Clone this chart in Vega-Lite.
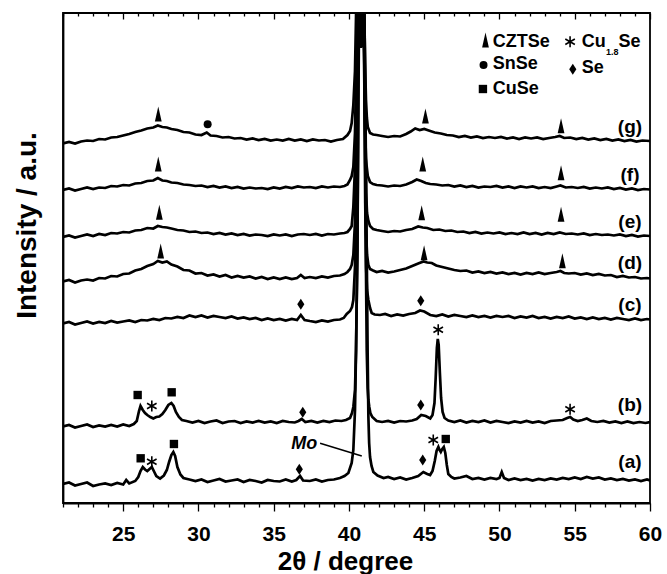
{
  "$schema": "https://vega.github.io/schema/vega-lite/v6.json",
  "width": 587,
  "height": 490,
  "autosize": {"type": "none"},
  "padding": {"left": 63, "top": 13, "right": 17, "bottom": 71},
  "background": "white",
  "config": {
    "view": {"stroke": "black", "strokeWidth": 1.8},
    "font": "Liberation Sans",
    "axis": {"labelFont": "Liberation Sans", "titleFont": "Liberation Sans", "labelColor": "black", "titleColor": "black", "domainColor": "black", "tickColor": "black", "grid": false}
  },
  "datasets": {
    "xrd": [
      {"s":"a","x":21.0,"y":19},{"s":"a","x":21.4,"y":20.5},{"s":"a","x":21.8,"y":17.5},{"s":"a","x":22.2,"y":19},{"s":"a","x":22.6,"y":20.5},{"s":"a","x":23.0,"y":17},{"s":"a","x":23.4,"y":18.5},{"s":"a","x":23.8,"y":19.5},{"s":"a","x":24.2,"y":18},{"s":"a","x":24.6,"y":20},{"s":"a","x":25.0,"y":18.5},{"s":"a","x":25.2,"y":23},{"s":"a","x":25.4,"y":19.5},{"s":"a","x":25.8,"y":22},{"s":"a","x":26.0,"y":26},{"s":"a","x":26.15,"y":32},{"s":"a","x":26.3,"y":36},{"s":"a","x":26.45,"y":33.5},{"s":"a","x":26.6,"y":32},{"s":"a","x":26.75,"y":34},{"s":"a","x":26.9,"y":36},{"s":"a","x":27.05,"y":31.5},{"s":"a","x":27.2,"y":27},{"s":"a","x":27.45,"y":24.5},{"s":"a","x":27.7,"y":27.5},{"s":"a","x":27.9,"y":33},{"s":"a","x":28.05,"y":41},{"s":"a","x":28.2,"y":48},{"s":"a","x":28.33,"y":51},{"s":"a","x":28.45,"y":47},{"s":"a","x":28.6,"y":36},{"s":"a","x":28.8,"y":28.5},{"s":"a","x":29.0,"y":25},{"s":"a","x":29.4,"y":23.5},{"s":"a","x":29.8,"y":22},{"s":"a","x":30.2,"y":23.5},{"s":"a","x":30.6,"y":21},{"s":"a","x":31.0,"y":22.5},{"s":"a","x":31.4,"y":24},{"s":"a","x":31.8,"y":21.5},{"s":"a","x":32.2,"y":22.5},{"s":"a","x":32.6,"y":23.5},{"s":"a","x":33.0,"y":21},{"s":"a","x":33.4,"y":23},{"s":"a","x":33.8,"y":22},{"s":"a","x":34.2,"y":20.5},{"s":"a","x":34.6,"y":23},{"s":"a","x":35.0,"y":22},{"s":"a","x":35.4,"y":21.5},{"s":"a","x":35.8,"y":23.5},{"s":"a","x":36.2,"y":21.5},{"s":"a","x":36.5,"y":23},{"s":"a","x":36.75,"y":27},{"s":"a","x":36.95,"y":22.5},{"s":"a","x":37.4,"y":22},{"s":"a","x":37.8,"y":23.5},{"s":"a","x":38.2,"y":21.5},{"s":"a","x":38.6,"y":23},{"s":"a","x":39.0,"y":23.5},{"s":"a","x":39.4,"y":25},{"s":"a","x":39.7,"y":27},{"s":"a","x":39.96,"y":30},{"s":"a","x":40.18,"y":40},{"s":"a","x":40.29,"y":53},{"s":"a","x":40.4,"y":93},{"s":"a","x":40.47,"y":153},{"s":"a","x":40.56,"y":253},{"s":"a","x":40.62,"y":380},{"s":"a","x":40.66,"y":470},{"s":"a","x":40.71,"y":515},{"s":"a","x":40.76,"y":458},{"s":"a","x":40.81,"y":512},{"s":"a","x":40.86,"y":462},{"s":"a","x":40.91,"y":508},{"s":"a","x":40.96,"y":468},{"s":"a","x":41.0,"y":505},{"s":"a","x":41.05,"y":460},{"s":"a","x":41.12,"y":350},{"s":"a","x":41.18,"y":253},{"s":"a","x":41.24,"y":150},{"s":"a","x":41.29,"y":86},{"s":"a","x":41.34,"y":60},{"s":"a","x":41.4,"y":46},{"s":"a","x":41.5,"y":37},{"s":"a","x":41.62,"y":31},{"s":"a","x":41.9,"y":27.5},{"s":"a","x":42.3,"y":25},{"s":"a","x":42.6,"y":26},{"s":"a","x":43.0,"y":24},{"s":"a","x":43.4,"y":25.5},{"s":"a","x":43.8,"y":23.5},{"s":"a","x":44.2,"y":25},{"s":"a","x":44.6,"y":27},{"s":"a","x":44.94,"y":31},{"s":"a","x":45.2,"y":29},{"s":"a","x":45.39,"y":28},{"s":"a","x":45.55,"y":32},{"s":"a","x":45.7,"y":42},{"s":"a","x":45.82,"y":52},{"s":"a","x":45.94,"y":56},{"s":"a","x":46.02,"y":53},{"s":"a","x":46.1,"y":51},{"s":"a","x":46.2,"y":54},{"s":"a","x":46.3,"y":56},{"s":"a","x":46.4,"y":50},{"s":"a","x":46.5,"y":38},{"s":"a","x":46.6,"y":29},{"s":"a","x":46.8,"y":26},{"s":"a","x":47.0,"y":24.5},{"s":"a","x":47.4,"y":25.5},{"s":"a","x":47.8,"y":27},{"s":"a","x":48.2,"y":24},{"s":"a","x":48.6,"y":25},{"s":"a","x":49.0,"y":23.5},{"s":"a","x":49.4,"y":25},{"s":"a","x":49.8,"y":24},{"s":"a","x":50.0,"y":25},{"s":"a","x":50.15,"y":31},{"s":"a","x":50.3,"y":25},{"s":"a","x":50.6,"y":23},{"s":"a","x":51.0,"y":24.5},{"s":"a","x":51.4,"y":23},{"s":"a","x":51.8,"y":24},{"s":"a","x":52.2,"y":22.5},{"s":"a","x":52.6,"y":24},{"s":"a","x":53.0,"y":23},{"s":"a","x":53.4,"y":24.5},{"s":"a","x":53.8,"y":23.5},{"s":"a","x":54.2,"y":25},{"s":"a","x":54.6,"y":24},{"s":"a","x":55.0,"y":25.5},{"s":"a","x":55.4,"y":24},{"s":"a","x":55.8,"y":26},{"s":"a","x":56.2,"y":24.5},{"s":"a","x":56.6,"y":25.5},{"s":"a","x":57.0,"y":23.5},{"s":"a","x":57.4,"y":24.5},{"s":"a","x":57.8,"y":23},{"s":"a","x":58.2,"y":24},{"s":"a","x":58.6,"y":22.5},{"s":"a","x":59.0,"y":23.5},{"s":"a","x":59.4,"y":22},{"s":"a","x":59.8,"y":23.5},{"s":"a","x":60.0,"y":22.5},

      {"s":"b","x":21.0,"y":76.5},{"s":"b","x":21.4,"y":78},{"s":"b","x":21.8,"y":75.5},{"s":"b","x":22.2,"y":77},{"s":"b","x":22.6,"y":78.5},{"s":"b","x":23.0,"y":76},{"s":"b","x":23.4,"y":77.5},{"s":"b","x":23.8,"y":76.5},{"s":"b","x":24.2,"y":78},{"s":"b","x":24.6,"y":76.5},{"s":"b","x":25.0,"y":78.5},{"s":"b","x":25.4,"y":77},{"s":"b","x":25.7,"y":79},{"s":"b","x":25.9,"y":82},{"s":"b","x":26.05,"y":92},{"s":"b","x":26.15,"y":97},{"s":"b","x":26.3,"y":93},{"s":"b","x":26.45,"y":90},{"s":"b","x":26.6,"y":88},{"s":"b","x":26.8,"y":86},{"s":"b","x":27.0,"y":84.5},{"s":"b","x":27.2,"y":86},{"s":"b","x":27.4,"y":86.5},{"s":"b","x":27.6,"y":89},{"s":"b","x":27.8,"y":93},{"s":"b","x":28.0,"y":98},{"s":"b","x":28.2,"y":100},{"s":"b","x":28.35,"y":97},{"s":"b","x":28.5,"y":91},{"s":"b","x":28.7,"y":86},{"s":"b","x":28.9,"y":83},{"s":"b","x":29.2,"y":82},{"s":"b","x":29.6,"y":80.5},{"s":"b","x":30.0,"y":82},{"s":"b","x":30.4,"y":80},{"s":"b","x":30.8,"y":81.5},{"s":"b","x":31.2,"y":82.5},{"s":"b","x":31.6,"y":80},{"s":"b","x":32.0,"y":81.5},{"s":"b","x":32.4,"y":82},{"s":"b","x":32.8,"y":80},{"s":"b","x":33.2,"y":81.5},{"s":"b","x":33.6,"y":80.5},{"s":"b","x":34.0,"y":82},{"s":"b","x":34.4,"y":80.5},{"s":"b","x":34.8,"y":81.5},{"s":"b","x":35.2,"y":80},{"s":"b","x":35.6,"y":82},{"s":"b","x":36.0,"y":81},{"s":"b","x":36.4,"y":80.5},{"s":"b","x":36.65,"y":82},{"s":"b","x":36.86,"y":84},{"s":"b","x":37.1,"y":81},{"s":"b","x":37.5,"y":82},{"s":"b","x":37.9,"y":80.5},{"s":"b","x":38.3,"y":82},{"s":"b","x":38.7,"y":81},{"s":"b","x":39.1,"y":82.5},{"s":"b","x":39.5,"y":82},{"s":"b","x":39.8,"y":83},{"s":"b","x":40.07,"y":85},{"s":"b","x":40.2,"y":90},{"s":"b","x":40.29,"y":96},{"s":"b","x":40.4,"y":113},{"s":"b","x":40.47,"y":153},{"s":"b","x":40.56,"y":253},{"s":"b","x":40.6,"y":360},{"s":"b","x":40.62,"y":465},{"s":"b","x":40.67,"y":510},{"s":"b","x":40.72,"y":456},{"s":"b","x":40.77,"y":514},{"s":"b","x":40.82,"y":460},{"s":"b","x":40.87,"y":506},{"s":"b","x":40.92,"y":463},{"s":"b","x":40.97,"y":502},{"s":"b","x":41.05,"y":420},{"s":"b","x":41.12,"y":250},{"s":"b","x":41.18,"y":153},{"s":"b","x":41.24,"y":115},{"s":"b","x":41.29,"y":103},{"s":"b","x":41.35,"y":96},{"s":"b","x":41.42,"y":90},{"s":"b","x":41.55,"y":86},{"s":"b","x":41.84,"y":82},{"s":"b","x":42.2,"y":81},{"s":"b","x":42.6,"y":82},{"s":"b","x":43.0,"y":80.5},{"s":"b","x":43.4,"y":82},{"s":"b","x":43.8,"y":81.5},{"s":"b","x":44.2,"y":82.5},{"s":"b","x":44.5,"y":84},{"s":"b","x":44.8,"y":88},{"s":"b","x":45.1,"y":87},{"s":"b","x":45.4,"y":84.5},{"s":"b","x":45.55,"y":88},{"s":"b","x":45.68,"y":100},{"s":"b","x":45.76,"y":125},{"s":"b","x":45.84,"y":155},{"s":"b","x":45.9,"y":164},{"s":"b","x":45.96,"y":158},{"s":"b","x":46.04,"y":130},{"s":"b","x":46.12,"y":105},{"s":"b","x":46.22,"y":91},{"s":"b","x":46.35,"y":85},{"s":"b","x":46.6,"y":82.5},{"s":"b","x":47.0,"y":81},{"s":"b","x":47.4,"y":82.5},{"s":"b","x":47.8,"y":80.5},{"s":"b","x":48.2,"y":82},{"s":"b","x":48.6,"y":81},{"s":"b","x":49.0,"y":82.5},{"s":"b","x":49.4,"y":80.5},{"s":"b","x":49.8,"y":82},{"s":"b","x":50.2,"y":81},{"s":"b","x":50.6,"y":80},{"s":"b","x":51.0,"y":81.5},{"s":"b","x":51.4,"y":80.5},{"s":"b","x":51.8,"y":82},{"s":"b","x":52.2,"y":80.5},{"s":"b","x":52.6,"y":81.5},{"s":"b","x":53.0,"y":80},{"s":"b","x":53.4,"y":82},{"s":"b","x":53.8,"y":82.5},{"s":"b","x":54.2,"y":83},{"s":"b","x":54.5,"y":85},{"s":"b","x":54.7,"y":86},{"s":"b","x":54.9,"y":83.5},{"s":"b","x":55.2,"y":82},{"s":"b","x":55.5,"y":83},{"s":"b","x":55.8,"y":84.5},{"s":"b","x":56.1,"y":82},{"s":"b","x":56.5,"y":81},{"s":"b","x":56.9,"y":82},{"s":"b","x":57.3,"y":80.5},{"s":"b","x":57.7,"y":81.5},{"s":"b","x":58.1,"y":80},{"s":"b","x":58.5,"y":81.5},{"s":"b","x":58.9,"y":80},{"s":"b","x":59.3,"y":81},{"s":"b","x":59.7,"y":80},{"s":"b","x":60.0,"y":81},

      {"s":"c","x":21.0,"y":179.5},{"s":"c","x":21.4,"y":181},{"s":"c","x":21.8,"y":178.5},{"s":"c","x":22.2,"y":180},{"s":"c","x":22.6,"y":181.5},{"s":"c","x":23.0,"y":179.5},{"s":"c","x":23.4,"y":181},{"s":"c","x":23.8,"y":180},{"s":"c","x":24.2,"y":182},{"s":"c","x":24.6,"y":180.5},{"s":"c","x":25.0,"y":181.5},{"s":"c","x":25.4,"y":182.5},{"s":"c","x":25.8,"y":181},{"s":"c","x":26.2,"y":183},{"s":"c","x":26.6,"y":182.5},{"s":"c","x":27.0,"y":184},{"s":"c","x":27.4,"y":183},{"s":"c","x":27.8,"y":185},{"s":"c","x":28.2,"y":184.5},{"s":"c","x":28.6,"y":186},{"s":"c","x":29.0,"y":185},{"s":"c","x":29.4,"y":187.5},{"s":"c","x":29.8,"y":186},{"s":"c","x":30.2,"y":187.5},{"s":"c","x":30.6,"y":185.5},{"s":"c","x":31.0,"y":187},{"s":"c","x":31.4,"y":186},{"s":"c","x":31.8,"y":185},{"s":"c","x":32.2,"y":186.5},{"s":"c","x":32.6,"y":184.5},{"s":"c","x":33.0,"y":185.5},{"s":"c","x":33.4,"y":184},{"s":"c","x":33.8,"y":185},{"s":"c","x":34.2,"y":183},{"s":"c","x":34.6,"y":184.5},{"s":"c","x":35.0,"y":183},{"s":"c","x":35.4,"y":184},{"s":"c","x":35.8,"y":182.5},{"s":"c","x":36.2,"y":184},{"s":"c","x":36.55,"y":183},{"s":"c","x":36.8,"y":188},{"s":"c","x":37.05,"y":183},{"s":"c","x":37.4,"y":182},{"s":"c","x":37.8,"y":181},{"s":"c","x":38.2,"y":182.5},{"s":"c","x":38.6,"y":181.5},{"s":"c","x":39.0,"y":183},{"s":"c","x":39.4,"y":183.5},{"s":"c","x":39.65,"y":185},{"s":"c","x":39.85,"y":189},{"s":"c","x":40.07,"y":192},{"s":"c","x":40.2,"y":196},{"s":"c","x":40.29,"y":203},{"s":"c","x":40.4,"y":236},{"s":"c","x":40.47,"y":290},{"s":"c","x":40.53,"y":370},{"s":"c","x":40.58,"y":450},{"s":"c","x":40.63,"y":505},{"s":"c","x":40.68,"y":462},{"s":"c","x":40.73,"y":512},{"s":"c","x":40.78,"y":457},{"s":"c","x":40.83,"y":508},{"s":"c","x":40.88,"y":464},{"s":"c","x":40.93,"y":510},{"s":"c","x":40.98,"y":470},{"s":"c","x":41.02,"y":420},{"s":"c","x":41.08,"y":300},{"s":"c","x":41.14,"y":235},{"s":"c","x":41.2,"y":213},{"s":"c","x":41.29,"y":203},{"s":"c","x":41.4,"y":195},{"s":"c","x":41.51,"y":190},{"s":"c","x":41.7,"y":188.5},{"s":"c","x":42.06,"y":188},{"s":"c","x":42.4,"y":189},{"s":"c","x":42.8,"y":187},{"s":"c","x":43.2,"y":188.5},{"s":"c","x":43.6,"y":187.5},{"s":"c","x":44.0,"y":189},{"s":"c","x":44.4,"y":190},{"s":"c","x":44.72,"y":192.5},{"s":"c","x":45.0,"y":191.5},{"s":"c","x":45.4,"y":188},{"s":"c","x":45.8,"y":187},{"s":"c","x":46.2,"y":188.5},{"s":"c","x":46.6,"y":186.5},{"s":"c","x":47.0,"y":188},{"s":"c","x":47.4,"y":187},{"s":"c","x":47.8,"y":186},{"s":"c","x":48.2,"y":187.5},{"s":"c","x":48.6,"y":186},{"s":"c","x":49.0,"y":187},{"s":"c","x":49.4,"y":185.5},{"s":"c","x":49.8,"y":187},{"s":"c","x":50.2,"y":186},{"s":"c","x":50.6,"y":187},{"s":"c","x":51.0,"y":185},{"s":"c","x":51.4,"y":186.5},{"s":"c","x":51.8,"y":185.5},{"s":"c","x":52.2,"y":187},{"s":"c","x":52.6,"y":185},{"s":"c","x":53.0,"y":186},{"s":"c","x":53.4,"y":184.5},{"s":"c","x":53.8,"y":186},{"s":"c","x":54.2,"y":185},{"s":"c","x":54.6,"y":186.5},{"s":"c","x":55.0,"y":184.5},{"s":"c","x":55.4,"y":185.5},{"s":"c","x":55.8,"y":184},{"s":"c","x":56.2,"y":185.5},{"s":"c","x":56.6,"y":184},{"s":"c","x":57.0,"y":185},{"s":"c","x":57.4,"y":183.5},{"s":"c","x":57.8,"y":185},{"s":"c","x":58.2,"y":184},{"s":"c","x":58.6,"y":183},{"s":"c","x":59.0,"y":184.5},{"s":"c","x":59.4,"y":183},{"s":"c","x":59.8,"y":184},{"s":"c","x":60.0,"y":183.5},

      {"s":"d","x":21.0,"y":221.5},{"s":"d","x":21.4,"y":223},{"s":"d","x":21.8,"y":220.5},{"s":"d","x":22.2,"y":222.5},{"s":"d","x":22.6,"y":223.5},{"s":"d","x":23.0,"y":222.5},{"s":"d","x":23.4,"y":225},{"s":"d","x":23.8,"y":224.5},{"s":"d","x":24.2,"y":227},{"s":"d","x":24.6,"y":226.5},{"s":"d","x":25.0,"y":229},{"s":"d","x":25.4,"y":229.5},{"s":"d","x":25.8,"y":232.5},{"s":"d","x":26.2,"y":234},{"s":"d","x":26.6,"y":237},{"s":"d","x":27.0,"y":239},{"s":"d","x":27.3,"y":242},{"s":"d","x":27.6,"y":240.5},{"s":"d","x":27.9,"y":241.5},{"s":"d","x":28.2,"y":238.5},{"s":"d","x":28.6,"y":236.5},{"s":"d","x":29.0,"y":233},{"s":"d","x":29.4,"y":232.5},{"s":"d","x":29.8,"y":229.5},{"s":"d","x":30.2,"y":230},{"s":"d","x":30.6,"y":227.5},{"s":"d","x":31.0,"y":228.5},{"s":"d","x":31.4,"y":226.5},{"s":"d","x":31.8,"y":228},{"s":"d","x":32.2,"y":225.5},{"s":"d","x":32.6,"y":227},{"s":"d","x":33.0,"y":225.5},{"s":"d","x":33.4,"y":226.5},{"s":"d","x":33.8,"y":224.5},{"s":"d","x":34.2,"y":226},{"s":"d","x":34.6,"y":224},{"s":"d","x":35.0,"y":225.5},{"s":"d","x":35.4,"y":224},{"s":"d","x":35.8,"y":225.5},{"s":"d","x":36.2,"y":224},{"s":"d","x":36.55,"y":225},{"s":"d","x":36.8,"y":228},{"s":"d","x":37.05,"y":225},{"s":"d","x":37.4,"y":226},{"s":"d","x":37.8,"y":225},{"s":"d","x":38.2,"y":226.5},{"s":"d","x":38.6,"y":225.5},{"s":"d","x":39.0,"y":227},{"s":"d","x":39.4,"y":227.5},{"s":"d","x":39.7,"y":229},{"s":"d","x":39.9,"y":231},{"s":"d","x":40.07,"y":234},{"s":"d","x":40.18,"y":238},{"s":"d","x":40.29,"y":248},{"s":"d","x":40.4,"y":281},{"s":"d","x":40.47,"y":336},{"s":"d","x":40.53,"y":416},{"s":"d","x":40.61,"y":470},{"s":"d","x":40.66,"y":512},{"s":"d","x":40.71,"y":459},{"s":"d","x":40.76,"y":506},{"s":"d","x":40.81,"y":455},{"s":"d","x":40.86,"y":511},{"s":"d","x":40.91,"y":466},{"s":"d","x":40.96,"y":504},{"s":"d","x":41.02,"y":470},{"s":"d","x":41.08,"y":340},{"s":"d","x":41.14,"y":270},{"s":"d","x":41.2,"y":248},{"s":"d","x":41.29,"y":238},{"s":"d","x":41.4,"y":234},{"s":"d","x":41.6,"y":232.5},{"s":"d","x":41.84,"y":231},{"s":"d","x":42.2,"y":232},{"s":"d","x":42.6,"y":230.5},{"s":"d","x":43.0,"y":231.5},{"s":"d","x":43.4,"y":233},{"s":"d","x":43.8,"y":234.5},{"s":"d","x":44.2,"y":237},{"s":"d","x":44.6,"y":239.5},{"s":"d","x":44.95,"y":241.5},{"s":"d","x":45.2,"y":240.5},{"s":"d","x":45.5,"y":240},{"s":"d","x":45.8,"y":237.5},{"s":"d","x":46.2,"y":236},{"s":"d","x":46.6,"y":234.5},{"s":"d","x":47.0,"y":233},{"s":"d","x":47.4,"y":232},{"s":"d","x":47.8,"y":232.5},{"s":"d","x":48.2,"y":230.5},{"s":"d","x":48.6,"y":231.5},{"s":"d","x":49.0,"y":230},{"s":"d","x":49.4,"y":231},{"s":"d","x":49.8,"y":229.5},{"s":"d","x":50.2,"y":230.5},{"s":"d","x":50.6,"y":229},{"s":"d","x":51.0,"y":230},{"s":"d","x":51.4,"y":228.5},{"s":"d","x":51.8,"y":230},{"s":"d","x":52.2,"y":229},{"s":"d","x":52.6,"y":230.5},{"s":"d","x":53.0,"y":229},{"s":"d","x":53.4,"y":230},{"s":"d","x":53.8,"y":231},{"s":"d","x":54.05,"y":232},{"s":"d","x":54.3,"y":230},{"s":"d","x":54.6,"y":229.5},{"s":"d","x":55.0,"y":230},{"s":"d","x":55.4,"y":228.5},{"s":"d","x":55.8,"y":229.5},{"s":"d","x":56.2,"y":228},{"s":"d","x":56.6,"y":229},{"s":"d","x":57.0,"y":227.5},{"s":"d","x":57.4,"y":228},{"s":"d","x":57.8,"y":226},{"s":"d","x":58.2,"y":227},{"s":"d","x":58.6,"y":225.5},{"s":"d","x":59.0,"y":226},{"s":"d","x":59.4,"y":224.5},{"s":"d","x":59.8,"y":225},{"s":"d","x":60.0,"y":224.5},

      {"s":"e","x":21.0,"y":266},{"s":"e","x":21.4,"y":267.5},{"s":"e","x":21.8,"y":265.5},{"s":"e","x":22.2,"y":267},{"s":"e","x":22.6,"y":268.5},{"s":"e","x":23.0,"y":267},{"s":"e","x":23.4,"y":269},{"s":"e","x":23.8,"y":268},{"s":"e","x":24.2,"y":270},{"s":"e","x":24.6,"y":269.5},{"s":"e","x":25.0,"y":271},{"s":"e","x":25.4,"y":270.5},{"s":"e","x":25.8,"y":272.5},{"s":"e","x":26.2,"y":273},{"s":"e","x":26.6,"y":275},{"s":"e","x":27.0,"y":274.5},{"s":"e","x":27.3,"y":277},{"s":"e","x":27.6,"y":276},{"s":"e","x":27.9,"y":275.5},{"s":"e","x":28.2,"y":274.5},{"s":"e","x":28.6,"y":273},{"s":"e","x":29.0,"y":272.5},{"s":"e","x":29.4,"y":271},{"s":"e","x":29.8,"y":271.5},{"s":"e","x":30.2,"y":270},{"s":"e","x":30.6,"y":270.5},{"s":"e","x":31.0,"y":269},{"s":"e","x":31.4,"y":270},{"s":"e","x":31.8,"y":268.5},{"s":"e","x":32.2,"y":269.5},{"s":"e","x":32.6,"y":268},{"s":"e","x":33.0,"y":269},{"s":"e","x":33.4,"y":267.5},{"s":"e","x":33.8,"y":268.5},{"s":"e","x":34.2,"y":268},{"s":"e","x":34.6,"y":267},{"s":"e","x":35.0,"y":268.5},{"s":"e","x":35.4,"y":267.5},{"s":"e","x":35.8,"y":268.5},{"s":"e","x":36.2,"y":267},{"s":"e","x":36.6,"y":268.5},{"s":"e","x":37.0,"y":269},{"s":"e","x":37.4,"y":268},{"s":"e","x":37.8,"y":269},{"s":"e","x":38.2,"y":267.5},{"s":"e","x":38.6,"y":269},{"s":"e","x":39.0,"y":268.5},{"s":"e","x":39.4,"y":269.5},{"s":"e","x":39.7,"y":270},{"s":"e","x":39.9,"y":271},{"s":"e","x":40.07,"y":274},{"s":"e","x":40.18,"y":277},{"s":"e","x":40.29,"y":296},{"s":"e","x":40.4,"y":336},{"s":"e","x":40.47,"y":390},{"s":"e","x":40.55,"y":470},{"s":"e","x":40.6,"y":508},{"s":"e","x":40.65,"y":460},{"s":"e","x":40.7,"y":514},{"s":"e","x":40.75,"y":462},{"s":"e","x":40.8,"y":505},{"s":"e","x":40.85,"y":457},{"s":"e","x":40.9,"y":512},{"s":"e","x":40.95,"y":468},{"s":"e","x":41.0,"y":500},{"s":"e","x":41.04,"y":460},{"s":"e","x":41.08,"y":380},{"s":"e","x":41.14,"y":310},{"s":"e","x":41.2,"y":290},{"s":"e","x":41.29,"y":282},{"s":"e","x":41.4,"y":277},{"s":"e","x":41.6,"y":274},{"s":"e","x":41.84,"y":273},{"s":"e","x":42.2,"y":272},{"s":"e","x":42.6,"y":271},{"s":"e","x":43.0,"y":272},{"s":"e","x":43.4,"y":271.5},{"s":"e","x":43.8,"y":273},{"s":"e","x":44.2,"y":274},{"s":"e","x":44.6,"y":276.5},{"s":"e","x":44.9,"y":275.5},{"s":"e","x":45.2,"y":275},{"s":"e","x":45.6,"y":273},{"s":"e","x":46.0,"y":273.5},{"s":"e","x":46.4,"y":272},{"s":"e","x":46.8,"y":272.5},{"s":"e","x":47.2,"y":271},{"s":"e","x":47.6,"y":271.5},{"s":"e","x":48.0,"y":270},{"s":"e","x":48.4,"y":271},{"s":"e","x":48.8,"y":269.5},{"s":"e","x":49.2,"y":270.5},{"s":"e","x":49.6,"y":269.5},{"s":"e","x":50.0,"y":270.5},{"s":"e","x":50.4,"y":269},{"s":"e","x":50.8,"y":270},{"s":"e","x":51.2,"y":269},{"s":"e","x":51.6,"y":270.5},{"s":"e","x":52.0,"y":269},{"s":"e","x":52.4,"y":270},{"s":"e","x":52.8,"y":268.5},{"s":"e","x":53.2,"y":270},{"s":"e","x":53.6,"y":269},{"s":"e","x":54.0,"y":270.5},{"s":"e","x":54.4,"y":269},{"s":"e","x":54.8,"y":269.5},{"s":"e","x":55.2,"y":268.5},{"s":"e","x":55.6,"y":269.5},{"s":"e","x":56.0,"y":268},{"s":"e","x":56.4,"y":269},{"s":"e","x":56.8,"y":268},{"s":"e","x":57.2,"y":268.5},{"s":"e","x":57.6,"y":267.5},{"s":"e","x":58.0,"y":268.5},{"s":"e","x":58.4,"y":267},{"s":"e","x":58.8,"y":268},{"s":"e","x":59.2,"y":266.5},{"s":"e","x":59.6,"y":267.5},{"s":"e","x":60.0,"y":267},

      {"s":"f","x":21.0,"y":313},{"s":"f","x":21.4,"y":314.5},{"s":"f","x":21.8,"y":312.5},{"s":"f","x":22.2,"y":314},{"s":"f","x":22.6,"y":315.5},{"s":"f","x":23.0,"y":314},{"s":"f","x":23.4,"y":315.5},{"s":"f","x":23.8,"y":315},{"s":"f","x":24.2,"y":317},{"s":"f","x":24.6,"y":316.5},{"s":"f","x":25.0,"y":318},{"s":"f","x":25.4,"y":317.5},{"s":"f","x":25.8,"y":319.5},{"s":"f","x":26.2,"y":320},{"s":"f","x":26.6,"y":322},{"s":"f","x":27.0,"y":322.5},{"s":"f","x":27.3,"y":325},{"s":"f","x":27.6,"y":322.5},{"s":"f","x":27.9,"y":322},{"s":"f","x":28.2,"y":320.5},{"s":"f","x":28.6,"y":320},{"s":"f","x":29.0,"y":318.5},{"s":"f","x":29.4,"y":318},{"s":"f","x":29.8,"y":317},{"s":"f","x":30.2,"y":317.5},{"s":"f","x":30.6,"y":316},{"s":"f","x":31.0,"y":317},{"s":"f","x":31.4,"y":315.5},{"s":"f","x":31.8,"y":316.5},{"s":"f","x":32.2,"y":315},{"s":"f","x":32.6,"y":316},{"s":"f","x":33.0,"y":314.5},{"s":"f","x":33.4,"y":315.5},{"s":"f","x":33.8,"y":314.5},{"s":"f","x":34.2,"y":315},{"s":"f","x":34.6,"y":314},{"s":"f","x":35.0,"y":315.5},{"s":"f","x":35.4,"y":314.5},{"s":"f","x":35.8,"y":316},{"s":"f","x":36.2,"y":315},{"s":"f","x":36.6,"y":316.5},{"s":"f","x":37.0,"y":315.5},{"s":"f","x":37.4,"y":316},{"s":"f","x":37.8,"y":315},{"s":"f","x":38.2,"y":316.5},{"s":"f","x":38.6,"y":315.5},{"s":"f","x":39.0,"y":316.5},{"s":"f","x":39.4,"y":316},{"s":"f","x":39.7,"y":317},{"s":"f","x":39.9,"y":318.5},{"s":"f","x":40.07,"y":323},{"s":"f","x":40.18,"y":327},{"s":"f","x":40.29,"y":336},{"s":"f","x":40.4,"y":370},{"s":"f","x":40.47,"y":425},{"s":"f","x":40.53,"y":480},{"s":"f","x":40.58,"y":475},{"s":"f","x":40.64,"y":510},{"s":"f","x":40.69,"y":458},{"s":"f","x":40.74,"y":508},{"s":"f","x":40.79,"y":462},{"s":"f","x":40.84,"y":514},{"s":"f","x":40.89,"y":456},{"s":"f","x":40.94,"y":506},{"s":"f","x":40.99,"y":470},{"s":"f","x":41.03,"y":430},{"s":"f","x":41.08,"y":370},{"s":"f","x":41.13,"y":345},{"s":"f","x":41.18,"y":336},{"s":"f","x":41.25,"y":327},{"s":"f","x":41.4,"y":321},{"s":"f","x":41.6,"y":319},{"s":"f","x":41.84,"y":318},{"s":"f","x":42.2,"y":317.5},{"s":"f","x":42.6,"y":316.5},{"s":"f","x":43.0,"y":317.5},{"s":"f","x":43.4,"y":317},{"s":"f","x":43.8,"y":318.5},{"s":"f","x":44.2,"y":321},{"s":"f","x":44.5,"y":323.5},{"s":"f","x":44.8,"y":322},{"s":"f","x":45.1,"y":320},{"s":"f","x":45.4,"y":319},{"s":"f","x":45.8,"y":318.5},{"s":"f","x":46.2,"y":317.5},{"s":"f","x":46.6,"y":318},{"s":"f","x":47.0,"y":316.5},{"s":"f","x":47.4,"y":317.5},{"s":"f","x":47.8,"y":316},{"s":"f","x":48.2,"y":317},{"s":"f","x":48.6,"y":315.5},{"s":"f","x":49.0,"y":316.5},{"s":"f","x":49.4,"y":316},{"s":"f","x":49.8,"y":317},{"s":"f","x":50.2,"y":315.5},{"s":"f","x":50.6,"y":316.5},{"s":"f","x":51.0,"y":315},{"s":"f","x":51.4,"y":316.5},{"s":"f","x":51.8,"y":315.5},{"s":"f","x":52.2,"y":316.5},{"s":"f","x":52.6,"y":315},{"s":"f","x":53.0,"y":316},{"s":"f","x":53.4,"y":315},{"s":"f","x":53.8,"y":316.5},{"s":"f","x":54.05,"y":317.5},{"s":"f","x":54.4,"y":315.5},{"s":"f","x":54.8,"y":316},{"s":"f","x":55.2,"y":315},{"s":"f","x":55.6,"y":316},{"s":"f","x":56.0,"y":314.5},{"s":"f","x":56.4,"y":315.5},{"s":"f","x":56.8,"y":314.5},{"s":"f","x":57.2,"y":315.5},{"s":"f","x":57.6,"y":314},{"s":"f","x":58.0,"y":315},{"s":"f","x":58.4,"y":313.5},{"s":"f","x":58.8,"y":314.5},{"s":"f","x":59.2,"y":313},{"s":"f","x":59.6,"y":314},{"s":"f","x":60.0,"y":313.5},

      {"s":"g","x":21.0,"y":359.5},{"s":"g","x":21.4,"y":361},{"s":"g","x":21.8,"y":359.5},{"s":"g","x":22.2,"y":361.5},{"s":"g","x":22.6,"y":362.5},{"s":"g","x":23.0,"y":362},{"s":"g","x":23.4,"y":364},{"s":"g","x":23.8,"y":363.5},{"s":"g","x":24.2,"y":365.5},{"s":"g","x":24.6,"y":366},{"s":"g","x":25.0,"y":367.5},{"s":"g","x":25.4,"y":369},{"s":"g","x":25.8,"y":371},{"s":"g","x":26.2,"y":372.5},{"s":"g","x":26.6,"y":374.5},{"s":"g","x":27.0,"y":375.5},{"s":"g","x":27.3,"y":377.5},{"s":"g","x":27.6,"y":376},{"s":"g","x":27.9,"y":375.5},{"s":"g","x":28.2,"y":374},{"s":"g","x":28.6,"y":373},{"s":"g","x":29.0,"y":371},{"s":"g","x":29.4,"y":370.5},{"s":"g","x":29.8,"y":368.5},{"s":"g","x":30.2,"y":368},{"s":"g","x":30.55,"y":370.5},{"s":"g","x":30.8,"y":367.5},{"s":"g","x":31.2,"y":367},{"s":"g","x":31.6,"y":365.5},{"s":"g","x":32.0,"y":366},{"s":"g","x":32.4,"y":364.5},{"s":"g","x":32.8,"y":365},{"s":"g","x":33.2,"y":363.5},{"s":"g","x":33.6,"y":364.5},{"s":"g","x":34.0,"y":363},{"s":"g","x":34.4,"y":364},{"s":"g","x":34.8,"y":362.5},{"s":"g","x":35.2,"y":363.5},{"s":"g","x":35.6,"y":362.5},{"s":"g","x":36.0,"y":364},{"s":"g","x":36.4,"y":362.5},{"s":"g","x":36.8,"y":363.5},{"s":"g","x":37.2,"y":362},{"s":"g","x":37.6,"y":363.5},{"s":"g","x":38.0,"y":362.5},{"s":"g","x":38.4,"y":363},{"s":"g","x":38.8,"y":361.5},{"s":"g","x":39.2,"y":363},{"s":"g","x":39.6,"y":364},{"s":"g","x":39.9,"y":368},{"s":"g","x":40.07,"y":372},{"s":"g","x":40.18,"y":380},{"s":"g","x":40.29,"y":398},{"s":"g","x":40.4,"y":432},{"s":"g","x":40.47,"y":487},{"s":"g","x":40.52,"y":530},{"s":"g","x":40.55,"y":500},{"s":"g","x":40.6,"y":465},{"s":"g","x":40.65,"y":512},{"s":"g","x":40.7,"y":458},{"s":"g","x":40.75,"y":506},{"s":"g","x":40.8,"y":461},{"s":"g","x":40.85,"y":510},{"s":"g","x":40.9,"y":457},{"s":"g","x":40.95,"y":470},{"s":"g","x":41.0,"y":505},{"s":"g","x":41.04,"y":470},{"s":"g","x":41.07,"y":440},{"s":"g","x":41.13,"y":403},{"s":"g","x":41.19,"y":385},{"s":"g","x":41.25,"y":376},{"s":"g","x":41.4,"y":370},{"s":"g","x":41.6,"y":368.5},{"s":"g","x":41.84,"y":368},{"s":"g","x":42.2,"y":367},{"s":"g","x":42.6,"y":366},{"s":"g","x":43.0,"y":367},{"s":"g","x":43.4,"y":366.5},{"s":"g","x":43.8,"y":369},{"s":"g","x":44.1,"y":371.5},{"s":"g","x":44.4,"y":374.5},{"s":"g","x":44.7,"y":373},{"s":"g","x":45.0,"y":374},{"s":"g","x":45.3,"y":372.5},{"s":"g","x":45.7,"y":370.5},{"s":"g","x":46.1,"y":369.5},{"s":"g","x":46.5,"y":368},{"s":"g","x":46.9,"y":367.5},{"s":"g","x":47.3,"y":366},{"s":"g","x":47.7,"y":367},{"s":"g","x":48.1,"y":365.5},{"s":"g","x":48.5,"y":366.5},{"s":"g","x":48.9,"y":365},{"s":"g","x":49.3,"y":366},{"s":"g","x":49.7,"y":365},{"s":"g","x":50.1,"y":366},{"s":"g","x":50.5,"y":364.5},{"s":"g","x":50.9,"y":365.5},{"s":"g","x":51.3,"y":364},{"s":"g","x":51.7,"y":365.5},{"s":"g","x":52.1,"y":364.5},{"s":"g","x":52.5,"y":365.5},{"s":"g","x":52.9,"y":364},{"s":"g","x":53.3,"y":365},{"s":"g","x":53.7,"y":366},{"s":"g","x":54.0,"y":367},{"s":"g","x":54.3,"y":365},{"s":"g","x":54.7,"y":365.5},{"s":"g","x":55.1,"y":364},{"s":"g","x":55.5,"y":365},{"s":"g","x":55.9,"y":363.5},{"s":"g","x":56.3,"y":364.5},{"s":"g","x":56.7,"y":363},{"s":"g","x":57.1,"y":364},{"s":"g","x":57.5,"y":362.5},{"s":"g","x":57.9,"y":363.5},{"s":"g","x":58.3,"y":362},{"s":"g","x":58.7,"y":363},{"s":"g","x":59.1,"y":361.5},{"s":"g","x":59.5,"y":362.5},{"s":"g","x":60.0,"y":362}
    ],
    "phases": [
      {"t":"CZTSe","x":27.33,"y":389},{"t":"CZTSe","x":45.08,"y":387},{"t":"CZTSe","x":54.09,"y":377.3},
      {"t":"CZTSe","x":27.33,"y":339},{"t":"CZTSe","x":44.9,"y":339},{"t":"CZTSe","x":54.09,"y":330.3},
      {"t":"CZTSe","x":27.4,"y":290.7},{"t":"CZTSe","x":44.83,"y":290.3},{"t":"CZTSe","x":54.09,"y":288.7},
      {"t":"CZTSe","x":27.49,"y":252},{"t":"CZTSe","x":44.99,"y":250.3},{"t":"CZTSe","x":54.18,"y":242.3},
      {"t":"SnSe","x":30.61,"y":378.7},
      {"t":"Se","x":36.8,"y":198.7},{"t":"Se","x":44.77,"y":202.3},
      {"t":"CuSe","x":25.96,"y":108},{"t":"CuSe","x":28.22,"y":110.7},
      {"t":"Cu1.8Se","x":26.9,"y":97},{"t":"Cu1.8Se","x":45.93,"y":173.3},{"t":"Cu1.8Se","x":54.69,"y":93.7},
      {"t":"Se","x":36.93,"y":90.7},{"t":"Se","x":44.77,"y":98},
      {"t":"CuSe","x":26.16,"y":44.7},{"t":"CuSe","x":28.37,"y":59},{"t":"CuSe","x":46.43,"y":64},
      {"t":"Cu1.8Se","x":26.9,"y":41.3},{"t":"Cu1.8Se","x":45.6,"y":63},
      {"t":"Se","x":36.7,"y":33.7},{"t":"Se","x":44.9,"y":43},
      {"t":"CZTSe","x":49.07,"y":463},{"t":"SnSe","x":48.94,"y":438},{"t":"CuSe","x":48.9,"y":414},
      {"t":"Cu1.8Se","x":54.69,"y":461.3},{"t":"Se","x":54.87,"y":433.7}
    ],
    "tags": [
      {"x":58.67,"y":41.3,"label":"(a)"},{"x":58.67,"y":98,"label":"(b)"},{"x":58.67,"y":198,"label":"(c)"},
      {"x":58.67,"y":240,"label":"(d)"},{"x":58.67,"y":281.5,"label":"(e)"},{"x":58.67,"y":328.5,"label":"(f)"},
      {"x":58.67,"y":376.5,"label":"(g)"}
    ],
    "names": [
      {"x":49.55,"y":461,"label":"CZTSe"},{"x":49.55,"y":439,"label":"SnSe"},{"x":49.55,"y":414,"label":"CuSe"},
      {"x":55.46,"y":461.3,"label":"Cu"},{"x":57.9,"y":461.3,"label":"Se"},{"x":55.46,"y":435.5,"label":"Se"}
    ],
    "subs": [{"x":57.08,"y":451.3,"label":"1.8"}],
    "mo": [{"x":37.9,"y":59,"label":"Mo"}],
    "pointer": [{"x":38.08,"x2":40.85,"y":59.7,"y2":47}]
  },
  "resolve": {"axis": {"x": "independent"}},
  "layer": [
    {
      "data": {"name": "xrd"},
      "mark": {"type": "line", "color": "black", "strokeWidth": 2.7, "clip": true},
      "encoding": {
        "x": {
          "field": "x", "type": "quantitative",
          "scale": {"domain": [21, 60], "nice": false, "zero": false},
          "axis": {
            "orient": "bottom",
            "values": [21,22,23,24,25,26,27,28,29,30,31,32,33,34,35,36,37,38,39,40,41,42,43,44,45,46,47,48,49,50,51,52,53,54,55,56,57,58,59,60],
            "labelExpr": "datum.value % 5 === 0 ? datum.label : ''",
            "labelOverlap": false,
            "labelFlush": false,
            "labelFontSize": 21,
            "labelFontWeight": "bold",
            "labelPadding": 12,
            "tickSize": {"condition": {"test": "datum.value % 5 === 0", "value": 8}, "value": 4},
            "tickWidth": 1.3,
            "domainWidth": 1.8,
            "title": "2θ / degree",
            "titleFontSize": 26,
            "titleFontWeight": "bold",
            "titleX": 282,
            "titleY": 58,
            "titleAlign": "center",
            "titleBaseline": "middle"
          }
        },
        "y": {
          "field": "y", "type": "quantitative",
          "scale": {"domain": [0, 490], "nice": false, "zero": false},
          "axis": {
            "title": "Intensity / a.u.",
            "ticks": false,
            "labels": false,
            "domainWidth": 1.8,
            "titleFontSize": 28,
            "titleFontWeight": "bold",
            "titleAngle": -90,
            "titleX": -36,
            "titleY": 212,
            "titleAlign": "center",
            "titleBaseline": "middle"
          }
        },
        "detail": {"field": "s", "type": "nominal"}
      }
    },
    {
      "data": {"name": "phases"},
      "transform": [{"filter": "datum.t === 'CZTSe'"}],
      "mark": {"type": "point", "filled": true, "color": "black", "opacity": 1, "size": 225, "shape": "M0,-1L0.45,1L-0.45,1Z"},
      "encoding": {
        "x": {
          "field": "x", "type": "quantitative",
          "axis": {
            "orient": "top",
            "values": [21,22,23,24,25,26,27,28,29,30,31,32,33,34,35,36,37,38,39,40,41,42,43,44,45,46,47,48,49,50,51,52,53,54,55,56,57,58,59,60],
            "labels": false,
            "title": null,
            "domain": false,
            "tickWidth": 1.3,
            "tickSize": {"condition": {"test": "datum.value % 5 === 0", "value": -6}, "value": -3}
          }
        },
        "y": {"field": "y", "type": "quantitative"}
      }
    },
    {
      "data": {"name": "phases"},
      "transform": [{"filter": "datum.t === 'SnSe'"}],
      "mark": {"type": "point", "filled": true, "color": "black", "opacity": 1, "size": 64, "shape": "circle"},
      "encoding": {
        "x": {"field": "x", "type": "quantitative", "axis": null},
        "y": {"field": "y", "type": "quantitative"}
      }
    },
    {
      "data": {"name": "phases"},
      "transform": [{"filter": "datum.t === 'CuSe'"}],
      "mark": {"type": "point", "filled": true, "color": "black", "opacity": 1, "size": 70, "shape": "square"},
      "encoding": {
        "x": {"field": "x", "type": "quantitative", "axis": null},
        "y": {"field": "y", "type": "quantitative"}
      }
    },
    {
      "data": {"name": "phases"},
      "transform": [{"filter": "datum.t === 'Se'"}],
      "mark": {"type": "point", "filled": true, "color": "black", "opacity": 1, "size": 121, "shape": "M0,-1L0.65,0L0,1L-0.65,0Z"},
      "encoding": {
        "x": {"field": "x", "type": "quantitative", "axis": null},
        "y": {"field": "y", "type": "quantitative"}
      }
    },
    {
      "data": {"name": "phases"},
      "transform": [{"filter": "datum.t === 'Cu1.8Se'"}],
      "mark": {"type": "point", "filled": false, "color": "black", "strokeWidth": 1.6, "opacity": 1, "size": 121, "shape": "M0,-1L0,1M-0.87,-0.5L0.87,0.5M-0.87,0.5L0.87,-0.5"},
      "encoding": {
        "x": {"field": "x", "type": "quantitative", "axis": null},
        "y": {"field": "y", "type": "quantitative"}
      }
    },
    {
      "data": {"name": "tags"},
      "mark": {"type": "text", "fontSize": 19, "fontWeight": "bold", "align": "center", "baseline": "middle", "color": "black"},
      "encoding": {
        "x": {"field": "x", "type": "quantitative", "axis": null},
        "y": {"field": "y", "type": "quantitative"},
        "text": {"field": "label"}
      }
    },
    {
      "data": {"name": "names"},
      "mark": {"type": "text", "fontSize": 18, "fontWeight": "bold", "align": "left", "baseline": "middle", "color": "black"},
      "encoding": {
        "x": {"field": "x", "type": "quantitative", "axis": null},
        "y": {"field": "y", "type": "quantitative"},
        "text": {"field": "label"}
      }
    },
    {
      "data": {"name": "subs"},
      "mark": {"type": "text", "fontSize": 9, "fontWeight": "bold", "align": "left", "baseline": "middle", "color": "black"},
      "encoding": {
        "x": {"field": "x", "type": "quantitative", "axis": null},
        "y": {"field": "y", "type": "quantitative"},
        "text": {"field": "label"}
      }
    },
    {
      "data": {"name": "mo"},
      "mark": {"type": "text", "fontSize": 18, "fontWeight": "bold", "fontStyle": "italic", "align": "right", "baseline": "middle", "color": "black"},
      "encoding": {
        "x": {"field": "x", "type": "quantitative", "axis": null},
        "y": {"field": "y", "type": "quantitative"},
        "text": {"field": "label"}
      }
    },
    {
      "data": {"name": "pointer"},
      "mark": {"type": "rule", "color": "black", "strokeWidth": 1.5},
      "encoding": {
        "x": {"field": "x", "type": "quantitative", "axis": null},
        "x2": {"field": "x2"},
        "y": {"field": "y", "type": "quantitative"},
        "y2": {"field": "y2"}
      }
    }
  ]
}
